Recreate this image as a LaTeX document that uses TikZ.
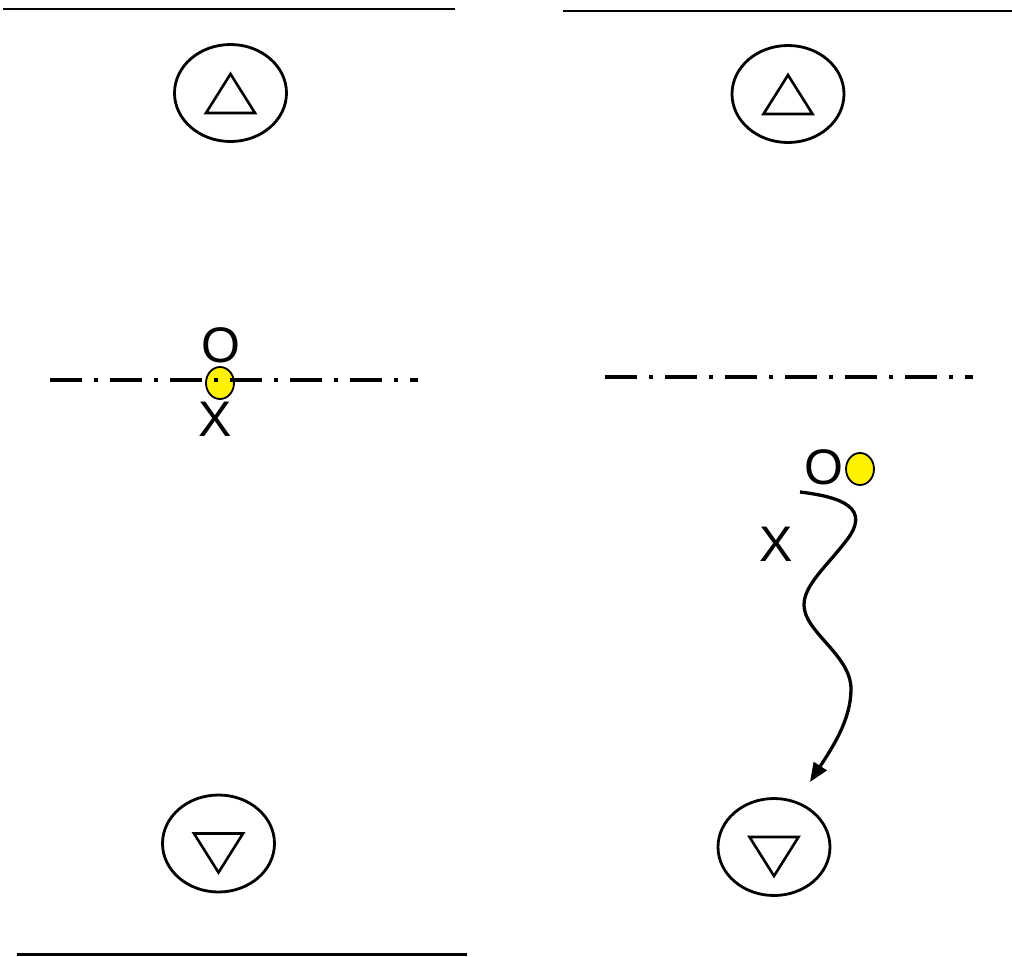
\documentclass[tikz,border=0pt]{standalone}
\usepackage{fontspec}
\setmainfont{Liberation Sans}
\usetikzlibrary{shapes.geometric,arrows.meta,calc}
\begin{document}
\begin{tikzpicture}[x=1pt,y=-1pt,
  goal/.style={ellipse,draw,line width=2.8pt,minimum width=112pt,minimum height=97pt,inner sep=0pt},
  tri/.style={line width=2.6pt,line join=miter},
  wall/.style={line width=2.6pt},
  midline/.style={line width=4pt,dash pattern=on 32pt off 12pt on 4pt off 12pt},
  ball/.style={ellipse,draw,line width=1.8pt,fill=yellow,minimum width=28pt,minimum height=32pt,inner sep=0pt},
  letter/.style={inner sep=0pt,font=\fontsize{50}{60}\selectfont},
  run/.style={line width=3.3pt,-{Triangle[length=19pt,width=15pt]}}]
\useasboundingbox (0,0) rectangle (1012,956);

% side lines
\coordinate (tl1) at (3,9);   \coordinate (tl2) at (455,9);
\coordinate (tr1) at (563,11); \coordinate (tr2) at (1012,11);
\coordinate (bl1) at (17,954.5); \coordinate (bl2) at (467,954.5);
\draw[wall] (tl1) -- (tl2);
\draw[wall] (tr1) -- (tr2);
\draw[wall] (bl1) -- (bl2);

% goals
\node[goal] (gtl) at (230.5,93) {};
\node[goal] (gtr) at (788,94) {};
\node[goal] (gbl) at (218.5,843.5) {};
\node[goal] (gbr) at (774,847) {};
\foreach \g in {gtl,gtr}{
  \draw[tri] ([shift={(0,-19)}]\g.center) -- ([shift={(-24.5,20)}]\g.center) -- ([shift={(24.5,20)}]\g.center) -- cycle;
}
\foreach \g in {gbl,gbr}{
  \draw[tri] ([shift={(-24.5,-10)}]\g.center) -- ([shift={(24.5,-10)}]\g.center) -- ([shift={(0,29)}]\g.center) -- cycle;
}

% left panel
\node[ball] (bL) at (220,383) {};
\coordinate (mlA) at (50,380); \coordinate (mlB) at (418,380);
\draw[midline] (mlA) -- (mlB);
\node[letter] (oL) at (221,345.5) {O};
\node[letter] (xL) at (215.5,419) {X};

% right panel
\coordinate (mrA) at (605,377); \coordinate (mrB) at (973,377);
\draw[midline] (mrA) -- (mrB);
\node[letter] (oR) at (823.5,467.5) {O};
\node[ball] (bR) at (860,469) {};
\node[letter] (xR) at (776,544) {X};

\coordinate (rs) at (800,492);
\coordinate (r1) at (846,541);
\coordinate (r2) at (804,605);
\coordinate (r3) at (851,689);
\coordinate (re) at (810,782);
\draw[run] (rs) .. controls (842,497) and (872,508) .. (r1)
  .. controls (826,567) and (804,585) .. (r2)
  .. controls (804,632) and (851,655) .. (r3)
  .. controls (851,720) and (832,748) .. (re);
\end{tikzpicture}
\end{document}
